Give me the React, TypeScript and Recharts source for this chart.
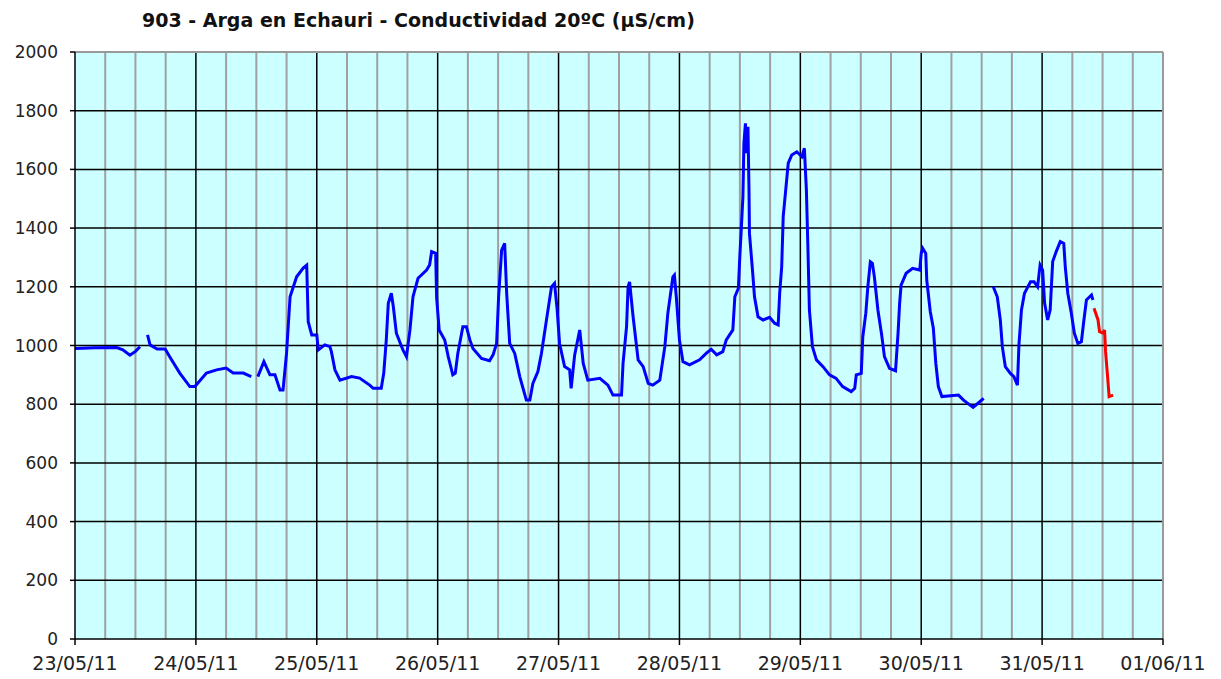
import {
  LineChart,
  Line,
  XAxis,
  YAxis,
  ReferenceLine,
  ReferenceArea,
} from "recharts";

// hours since 23/05/11 00:00
const dayTicks = [0, 24, 48, 72, 96, 120, 144, 168, 192, 216];
const dayLabels = [
  "23/05/11",
  "24/05/11",
  "25/05/11",
  "26/05/11",
  "27/05/11",
  "28/05/11",
  "29/05/11",
  "30/05/11",
  "31/05/11",
  "01/06/11",
];
const valueTicks = [0, 200, 400, 600, 800, 1000, 1200, 1400, 1600, 1800, 2000];

// validated series (blue); null = missing data
const blueHours = [
  0, 4, 8.3, 9.5, 10.9, 12, 12.9, 13.6,
  14.4, 14.9, 16.3, 17.9, 18.8, 20.8, 22.8, 23.8, 26.1, 28.1, 30, 31.4, 33.4, 35, 35.6,
  36.3, 37.5, 38.7, 39.7, 40.7, 41.3, 42, 42.7, 44, 45.3, 46, 46.3, 47, 48, 48.3, 49.6,
  50.6, 50.9, 51.6, 52.6, 54.9, 56.5, 58.5, 59.2, 60.8, 61.3, 61.8, 62.2, 62.8, 63.2,
  63.8, 65.1, 65.8, 66.5, 67.1, 68.1, 69.8, 70.4, 70.8, 71.6, 71.8, 72.3, 73.4, 74.1,
  75, 75.5, 76, 77, 77.7, 78.4, 79, 80.7, 82.3, 83, 83.7, 84.1, 84.7, 85.3, 85.7, 86.3,
  87.3, 88.3, 89.6, 90.3, 90.9, 91.9, 92.6, 93.6, 94.6, 95.2, 95.7, 96.2, 97.2, 98.2,
  98.5, 99.2, 100.2, 100.9, 101.8, 104.2, 105.8, 106.8, 108.5, 108.8, 109.5, 109.8,
  110.1, 110.8, 111.8, 112.8, 113.8, 114.7, 116.1, 117.1, 117.7, 118.7, 119, 119.4,
  120, 120.7, 122, 124, 125.3, 126.3, 127.4, 128.6, 129.3, 130.6, 131, 131.7, 132,
  132.3, 132.6, 132.8, 133.1, 133.3, 133.6, 133.8, 133.9, 134.5, 134.9, 135.6, 136.6,
  137.9, 138.9, 139.6, 139.9, 140.3, 140.6, 141.1, 141.6, 142.3, 143.3, 144.3, 144.8,
  145.2, 145.5, 145.8, 146.4, 147.2, 148.5, 149.8, 151.1, 152.4, 154.1, 154.8, 155.1,
  156.1, 156.4, 157, 157.4, 157.9, 158.3, 158.7, 159.4, 160.1, 160.7, 161.7, 162.9,
  163.4, 163.7, 164, 165, 166.3, 167.7, 168, 168.3, 168.9, 169.1, 169.8, 170.4, 170.9,
  171.4, 172.1, 175.4, 176.4, 178.3, 179.4, 180.4, 181.3,
  182.3, 183.1, 183.7, 184.1, 184.7, 185.7, 186.4, 187.1, 187.4, 187.9, 188.5, 189.7,
  190.4, 191.1, 191.6, 192.1, 192.5, 193.1, 193.6, 194.1, 194.8, 195.6, 196.3, 196.6,
  197.1, 197.8, 198.4, 199.1, 199.8, 200.3, 200.8, 201.8, 202.1,
];
const blueValues = [
  990, 992, 993, 985, 967, 980, 996, null,
  1036, 1002, 988, 988, 962, 906, 860, 860, 906, 917, 923, 906, 906, 894, null,
  894, 945, 900, 900, 848, 848, 974, 1166, 1234, 1264, 1274, 1081, 1036, 1036, 985, 1002,
  996, 979, 917, 882, 894, 889, 865, 854, 854, 906, 1019, 1144, 1178, 1132,
  1042, 985, 962, 1053, 1166, 1229, 1257, 1274, 1320, 1314, 1161, 1053, 1019, 962,
  900, 906, 973, 1064, 1064, 1019, 990, 956, 948, 968, 1007, 1166, 1325, 1348, 1178, 1007,
  973, 894, 814, 814, 871, 911, 973, 1087, 1200, 1212, 1127, 1007, 928, 917,
  854, 968, 1053, 939, 882, 888, 865, 831, 831, 939, 1064, 1200,
  1217, 1098, 951, 928, 871, 865, 882, 996, 1110, 1234, 1240, 1161,
  1019, 945, 934, 951, 973, 987, 968, 979, 1019, 1053, 1166, 1195, 1308,
  1405, 1507, 1689, 1757, 1655, 1745, 1541, 1382, 1257, 1166, 1098, 1087,
  1096, 1076, 1070, 1178, 1268, 1439, 1530, 1621, 1649, 1660, 1643, 1672,
  1530, 1337, 1121, 996, 951, 928, 900, 888, 860, 843, 854, 900,
  905, 1030, 1110, 1200, 1285, 1280, 1234, 1121, 1042, 962, 922, 914,
  1042, 1140, 1206, 1246, 1263, 1257, 1314, 1331, 1314, 1223, 1115, 1060, 939,
  860, 826, 831, 814, 789, 805, 820, null,
  1200, 1166, 1087, 996, 928, 905, 894, 865, 1002, 1121, 1178, 1217,
  1217, 1200, 1274, 1257, 1144, 1087, 1121, 1286, 1320, 1354, 1348, 1268,
  1178, 1110, 1042, 1007, 1013, 1087, 1155, 1172, 1155,
];

// provisional series (red)
const redHours = [202.3, 203.1, 203.4, 204.1, 204.4, 204.6, 205, 205.3, 206.1];
const redValues = [1127, 1087, 1047, 1042, 1053, 979, 894, 826, 831];

const blueData = blueHours.map((t, i) => ({ t, v: blueValues[i] }));
const redData = redHours.map((t, i) => ({ t, v: redValues[i] }));

const minorTicks = Array.from({ length: 37 }, (_, i) => i * 6).filter(
  (h) => h % 24 !== 0
);

const FONT = "'DejaVu Sans', Verdana, sans-serif";

export default function App() {
  return (
    <div
      style={{
        position: "absolute",
        left: 0,
        top: 0,
        width: 1221,
        height: 679,
        background: "#fff",
      }}
    >
      <div
        style={{
          position: "absolute",
          left: 142,
          top: 8,
          lineHeight: "24px",
          fontFamily: FONT,
          fontWeight: "bold",
          fontSize: 19,
          color: "#111",
          whiteSpace: "nowrap",
        }}
      >
        903 - Arga en Echauri - Conductividad 20ºC (µS/cm)
      </div>
      <LineChart
        width={1221}
        height={679}
        margin={{ top: 52, right: 58, left: 0, bottom: 0 }}
      >
        <XAxis
          dataKey="t"
          type="number"
          domain={[0, 216]}
          ticks={dayTicks}
          tickFormatter={(v: number) => dayLabels[dayTicks.indexOf(v)] ?? ""}
          height={40}
          tickSize={6}
          tickMargin={12}
          axisLine={{ stroke: "#000", strokeWidth: 1.5 }}
          tickLine={{ stroke: "#000", strokeWidth: 1.5 }}
          tick={{ fill: "#222", fontSize: 19, fontFamily: FONT }}
          allowDataOverflow
        />
        <YAxis
          type="number"
          domain={[0, 2000]}
          ticks={valueTicks}
          width={75}
          tickSize={5}
          tickMargin={12}
          axisLine={{ stroke: "#000", strokeWidth: 1.5 }}
          tickLine={{ stroke: "#000", strokeWidth: 1.5 }}
          tick={{ fill: "#222", fontSize: 17, fontFamily: FONT }}
        />
        <ReferenceArea
          x1={0}
          x2={216}
          y1={0}
          y2={2000}
          fill="#CCFFFF"
          fillOpacity={1}
          stroke="none"
        />
        {minorTicks.map((h) => (
          <ReferenceLine key={"m" + h} x={h} stroke="#A0A0A0" strokeWidth={2} />
        ))}
        {dayTicks.slice(1, -1).map((h) => (
          <ReferenceLine key={"d" + h} x={h} stroke="#000" strokeWidth={1.5} />
        ))}
        {valueTicks.slice(1, -1).map((v) => (
          <ReferenceLine key={"h" + v} y={v} stroke="#000" strokeWidth={1.5} />
        ))}
        <ReferenceLine y={2000} stroke="#999" strokeWidth={2} />
        <ReferenceLine x={216} stroke="#999" strokeWidth={2} />
        <Line
          data={blueData}
          dataKey="v"
          type="linear"
          stroke="#0000FF"
          strokeWidth={3}
          dot={false}
          connectNulls={false}
          isAnimationActive={false}
        />
        <Line
          data={redData}
          dataKey="v"
          type="linear"
          stroke="#FF0000"
          strokeWidth={3}
          dot={false}
          isAnimationActive={false}
        />
      </LineChart>
    </div>
  );
}
